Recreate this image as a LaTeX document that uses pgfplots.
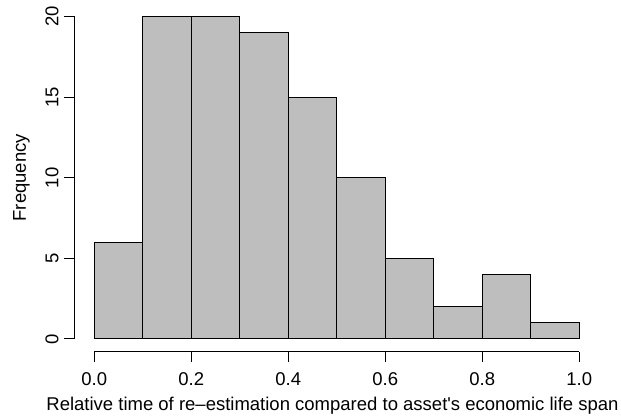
\documentclass[border=0pt]{standalone}
\usepackage{fontspec}
\setmainfont{Liberation Sans}
\usepackage{pgfplots}
\pgfplotsset{compat=1.18}
\definecolor{histgray}{RGB}{190,190,190}
\begin{document}
\begin{tikzpicture}
\path[use as bounding box] (0,0) rectangle (621pt,417pt);
\begin{axis}[
  at={(74.9pt,65.1pt)}, anchor=south west,
  scale only axis,
  width=523.8pt, height=348.3pt,
  xmin=-0.04, xmax=1.04,
  ymin=-0.8, ymax=20.8,
  axis x line=bottom, axis y line=left,
  axis line style={draw=none},
  clip=false,
  font=\fontsize{18.5}{22}\selectfont,
  /pgf/number format/assume math mode=true,
  xtick={0,0.2,0.4,0.6,0.8,1.0},
  xticklabels={0.0,0.2,0.4,0.6,0.8,1.0},
  ytick={0,5,10,15,20},
  tick align=outside,
  major tick length=10.5pt,
  tick style={black, line width=1pt},
  xticklabel style={anchor=base, yshift=-23pt},
  yticklabel style={xshift=-6pt, anchor=base, rotate=90},
  xlabel={Relative time of re–estimation compared to asset\textquotesingle s economic life span},
  ylabel={Frequency},
  xlabel style={at={(axis description cs:0.4918,0)}, anchor=base, yshift=-59pt},
  ylabel style={at={(axis description cs:-0.0934,0.5)}, anchor=base},
]
\addplot[ybar interval, fill=histgray, draw=black, line width=1pt]
  coordinates {(0.0,6) (0.1,20) (0.2,20) (0.3,19) (0.4,15) (0.5,10) (0.6,5) (0.7,2) (0.8,4) (0.9,1) (1.0,1)};
\draw[black, line width=1pt] (axis cs:0,-0.8) -- (axis cs:1,-0.8);
\draw[black, line width=1pt] (axis cs:-0.04,0) -- (axis cs:-0.04,20);
\end{axis}
\end{tikzpicture}
\end{document}
